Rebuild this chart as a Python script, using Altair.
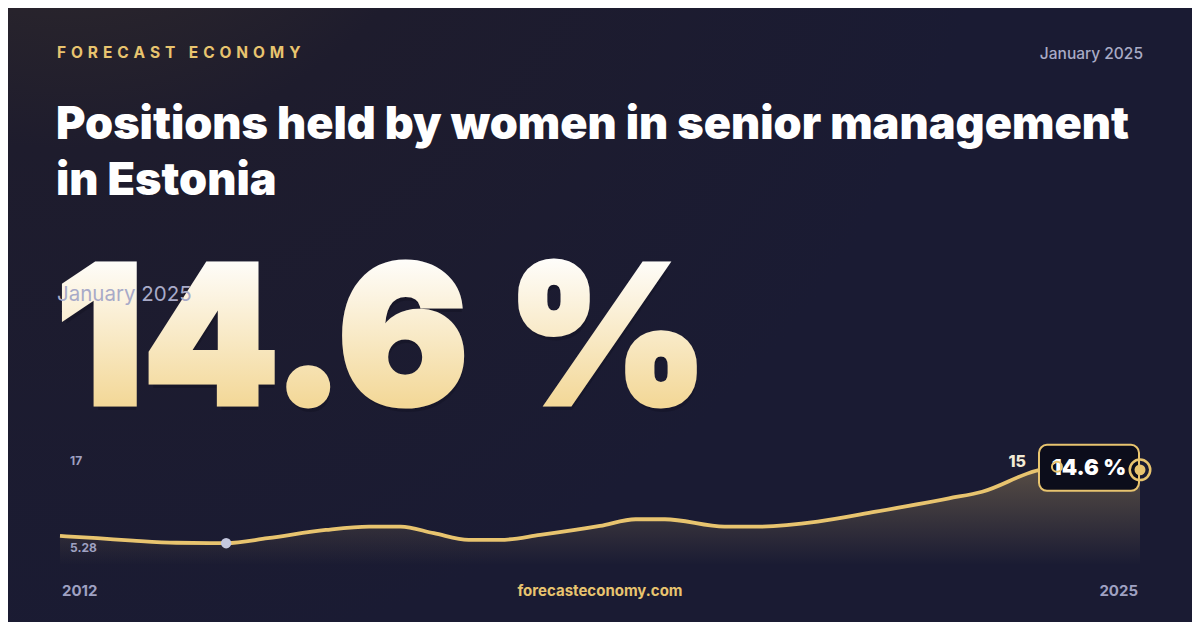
import altair as alt
import pandas as pd

# ---- data ----
years = [2012.0, 2012.45, 2012.88, 2013.4, 2014.0, 2014.5, 2015.2, 2015.72, 2016.1,
         2016.5, 2016.92, 2017.3, 2017.78, 2018.5, 2018.93, 2019.28, 2020.0, 2020.38,
         2021.12, 2021.82, 2022.7, 2023.1, 2023.75, 2024.0, 2025.0]
values = [6.20, 5.91, 5.60, 5.33, 5.28, 5.91, 6.96, 7.38, 7.38,
          6.54, 5.69, 5.69, 6.33, 7.47, 8.32, 8.32, 7.38, 7.38,
          8.02, 9.28, 10.98, 11.82, 14.49, 15.0, 14.6]
min_point = {"year": 2014.0, "value": 5.28}
max_point = {"year": 2024.0, "value": 15.0}
last_point = {"year": 2025.0, "value": 14.6}
y_domain = [2.5, 17]
x_domain = [2012, 2025]

brand = "FORECAST ECONOMY"
date_label = "January 2025"
title_lines = ["Positions held by women in senior management", "in Estonia"]
headline = "14.6 %"
footer_site = "forecasteconomy.com"

W, H = 1184, 614
GOLD = "#e8c46f"
MUTED = "#9fa1c2"

df = pd.DataFrame({"year": years, "value": values})

xs = alt.Scale(domain=x_domain, range=[52, 1132])
ys = alt.Scale(domain=y_domain, range=[557, 443])
X = alt.X("year:Q", scale=xs, axis=None)
Y = alt.Y("value:Q", scale=ys, axis=None)


def label(text, x, y, size, color, weight=400, align="left", baseline="middle",
          font="Inter", opacity=1.0):
    return alt.Chart(alt.Data(values=[{"t": text}])).mark_text(
        fontSize=size, color=color, fontWeight=weight, align=align,
        baseline=baseline, font=font, opacity=opacity
    ).encode(text="t:N", x=alt.value(x), y=alt.value(y))


bg = alt.Chart(alt.Data(values=[{"a": 1}])).mark_rect(
    color=alt.RadialGradient(
        gradient="radial", x1=0.05, y1=0.0, r1=0, x2=0.05, y2=0.0, r2=0.8,
        stops=[alt.GradientStop(offset=0, color="#3b322a"),
               alt.GradientStop(offset=0.45, color="#1e1c2d"),
               alt.GradientStop(offset=1, color="#1a1b33")]
    )
).encode(x=alt.value(0), x2=alt.value(W), y=alt.value(0), y2=alt.value(H))

NB = "\u00a0"
SEP = NB + "\u200a"
spaced_brand = SEP.join(list(brand)).replace(" ", NB)

gold_grad = alt.LinearGradient(
    gradient="linear", x1=0, x2=0, y1=0, y2=1,
    stops=[alt.GradientStop(offset=0.15, color="#ffffff"),
           alt.GradientStop(offset=0.8, color="#f3d898")]
)

layers = [
    bg,
    label(spaced_brand, 49, 45, 15.5, GOLD, 700),
    label(date_label, 1135, 46, 15.5, "#a9abc6", 500, align="right"),
    label(title_lines[0], 48, 131, 45, "#ffffff", 900, baseline="alphabetic"),
    label(title_lines[1], 48, 187, 45, "#ffffff", 900, baseline="alphabetic"),
    label(headline, 50, 402, 193, "#05050d", 900, baseline="alphabetic", opacity=0.18),
]

big = alt.Chart(alt.Data(values=[{"t": headline}])).mark_text(
    fontSize=193, fontWeight=900, font="Inter", align="left", baseline="alphabetic",
    color=gold_grad, stroke=gold_grad, strokeWidth=5, strokeJoin="miter"
).encode(text="t:N", x=alt.value(48), y=alt.value(396))
layers.append(big)
layers.append(label(date_label, 49, 287, 20.5, "#a8aac8", 400))

area = alt.Chart(df).mark_area(
    interpolate="monotone",
    color=alt.LinearGradient(
        gradient="linear", x1=0, x2=0, y1=0, y2=1,
        stops=[alt.GradientStop(offset=0, color="rgba(232,196,111,0.30)"),
               alt.GradientStop(offset=1, color="rgba(232,196,111,0.0)")]
    )
).encode(x=X, y=Y, y2=alt.datum(y_domain[0]))

line = alt.Chart(df).mark_line(interpolate="monotone", color=GOLD, strokeWidth=3.8).encode(x=X, y=Y)

min_df = pd.DataFrame([min_point])
max_df = pd.DataFrame([max_point])
last_df = pd.DataFrame([last_point])

min_dot = alt.Chart(min_df).mark_circle(size=110, color="#c5c8de", opacity=1).encode(x=X, y=Y)

y_lab_df = pd.DataFrame({"year": [2012.0, 2012.0], "value": [y_domain[1], min_point["value"]],
                         "t": ["17", "5.28"]})
y_top = alt.Chart(y_lab_df.iloc[[0]]).mark_text(
    align="left", baseline="middle", fontSize=12, fontWeight=700, color=MUTED, font="Inter", dx=10, dy=10
).encode(x=X, y=Y, text="t:N")
y_min = alt.Chart(y_lab_df.iloc[[1]]).mark_text(
    align="left", baseline="middle", fontSize=12, fontWeight=700, color=MUTED, font="Inter", dx=10, dy=5
).encode(x=X, y=Y, text="t:N")

max_lab = alt.Chart(max_df).mark_text(
    align="right", baseline="middle", fontSize=16, fontWeight=800, color="#f3ead6", font="Inter",
    dx=-31, dy=-5
).encode(x=X, y=Y, text=alt.Text("value:Q", format=".0f"))

box = alt.Chart(last_df).mark_rect(
    width=100, height=46, xOffset=-51, yOffset=-2, cornerRadius=8,
    fill="#0c0d1b", stroke=GOLD, strokeWidth=2
).encode(x=X, y=Y)

box_text = alt.Chart(last_df).mark_text(
    align="center", baseline="middle", fontSize=22, fontWeight=900, color="#ffffff", font="Inter",
    dx=-51, dy=-2
).encode(x=X, y=Y, text=alt.value(headline))

max_ring = alt.Chart(max_df).mark_point(
    size=100, filled=False, color=GOLD, strokeWidth=2, opacity=1
).encode(x=X, y=Y)

end_ring = alt.Chart(last_df).mark_point(
    size=420, filled=False, color=GOLD, strokeWidth=2.5, opacity=1
).encode(x=X, y=Y)
end_dot = alt.Chart(last_df).mark_circle(size=120, color=GOLD, opacity=1).encode(x=X, y=Y)

layers += [area, line, min_dot, y_top, y_min, max_lab, box, box_text, max_ring, end_ring, end_dot]

layers += [
    label("2012", 54, 583, 15, MUTED, 700),
    label(footer_site, 592, 583, 15, GOLD, 700, align="center"),
    label("2025", 1130, 583, 15, MUTED, 700, align="right"),
]

chart = alt.layer(*layers).properties(
    width=W, height=H, padding=0, autosize=alt.AutoSizeParams(type="none"),
    background="#1a1b33"
).configure_view(stroke=None)

chart.save("out.html", embed_options={"renderer": "svg", "actions": False})
